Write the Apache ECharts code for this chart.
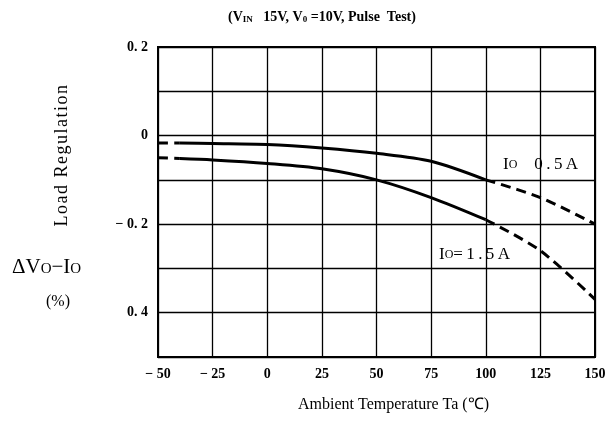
<!DOCTYPE html>
<html>
<head>
<meta charset="utf-8">
<script src="https://cdn.jsdelivr.net/npm/echarts@6/dist/echarts.min.js"></script>
<style>
html, body { margin: 0; padding: 0; background: #fff; }
#main { width: 613px; height: 427px; }
</style>
</head>
<body>
<div id="main"></div>
<script>
// temperatures (℃)
var temps = [-50, -40, -25, 0, 25, 50, 75, 100, 125, 150]
// load regulation (%) for Io = 0.5A
var reg05 = [-0.017, -0.017, -0.018, -0.02, -0.028, -0.04, -0.058, -0.1, -0.14, -0.2]
// load regulation (%) for Io = 1.5A
var reg15 = [-0.05, -0.052, -0.055, -0.063, -0.075, -0.1, -0.14, -0.19, -0.26, -0.37]
// y tick labels as printed on the original
var yLabels = { '2': '0. 2', '0': '0', '-2': '\u2212 0. 2', '-4': '0. 4' }

function pick(arr, from, to) {
  var out = []
  for (var i = 0; i < temps.length; i++) {
    if (temps[i] >= from && temps[i] <= to) out.push([temps[i], arr[i]])
  }
  return out
}

// thin spaces between letters, the scan is set wide
function spaced(s, sp) {
  return s.split('').join(sp || '\u200a')
}

var serif = 'Liberation Serif'
var chart = echarts.init(document.getElementById('main'))

function lineSeries(data, dashed) {
  return {
    type: 'line',
    data: data,
    smooth: 0.3,
    symbol: 'none',
    lineStyle: { color: '#000', width: 3, type: dashed ? [10, 6] : 'solid' }
  }
}

var option = {
  animation: false,
  backgroundColor: '#fff',
  grid: { left: 158, right: 18, top: 47, bottom: 70, show: true, borderColor: '#000', borderWidth: 2 },
  xAxis: {
    type: 'value',
    min: -50,
    max: 150,
    interval: 25,
    axisLine: { show: false },
    axisTick: { show: false },
    splitLine: { lineStyle: { color: '#000', width: 1.3 } },
    axisLabel: {
      color: '#000', fontFamily: serif, fontSize: 14, fontWeight: 'bold', margin: 10,
      formatter: function (v) { return v < 0 ? '\u2212 ' + Math.abs(v) : '' + v }
    }
  },
  yAxis: {
    type: 'value',
    min: -0.5,
    max: 0.2,
    interval: 0.1,
    axisLine: { show: false },
    axisTick: { show: false },
    splitLine: { lineStyle: { color: '#000', width: 1.3 } },
    axisLabel: {
      color: '#000', fontFamily: serif, fontSize: 14, fontWeight: 'bold', margin: 10,
      formatter: function (v) {
        var k = Math.round(v * 10)
        return yLabels[k] !== undefined ? yLabels[k] : ''
      }
    }
  },
  series: [
    lineSeries(pick(reg05, -50, -40), true),
    lineSeries(pick(reg05, -40, 100), false),
    lineSeries(pick(reg05, 100, 150), true),
    lineSeries(pick(reg15, -50, -40), true),
    lineSeries(pick(reg15, -40, 100), false),
    lineSeries(pick(reg15, 100, 150), true)
  ],
  graphic: [
    {
      type: 'text', left: 228, top: 10,
      style: {
        text: '(V{s|IN}   15V, V{s|0} =10V, Pulse  Test)',
        fill: '#000', font: 'bold 14px ' + serif,
        rich: { s: { fontSize: 9, fontFamily: serif, fontWeight: 'bold', padding: [6, 0, 0, 0] } }
      }
    },
    {
      type: 'text', left: 53, top: 85, rotation: Math.PI / 2,
      style: { text: spaced('Load Regulation'), fill: '#000', font: '18px ' + serif }
    },
    {
      type: 'text', left: 12, top: 257,
      style: {
        text: '\u0394V{s|O}\u2212I{s|O}', fill: '#000', font: '21px ' + serif,
        rich: { s: { fontSize: 15, fontFamily: serif, padding: [4, 0, 0, 0] } }
      }
    },
    {
      type: 'text', left: 46, top: 294,
      style: { text: '(%)', fill: '#000', font: '16px ' + serif }
    },
    {
      type: 'text', left: 503, top: 156,
      style: {
        text: 'I{s|O}    ' + spaced('0.5A', '\u2009'), fill: '#000', font: '17px ' + serif,
        rich: { s: { fontSize: 12, fontFamily: serif } }
      }
    },
    {
      type: 'text', left: 439, top: 246,
      style: {
        text: 'I{s|O}' + spaced('=1.5A', '\u2009'), fill: '#000', font: '17px ' + serif, backgroundColor: '#fff',
        rich: { s: { fontSize: 12, fontFamily: serif } }
      }
    },
    {
      type: 'text', left: 298, top: 397,
      style: { text: 'Ambient Temperature Ta (\u2103)', fill: '#000', font: '16px ' + serif }
    }
  ]
}
chart.setOption(option)
</script>
</body>
</html>
